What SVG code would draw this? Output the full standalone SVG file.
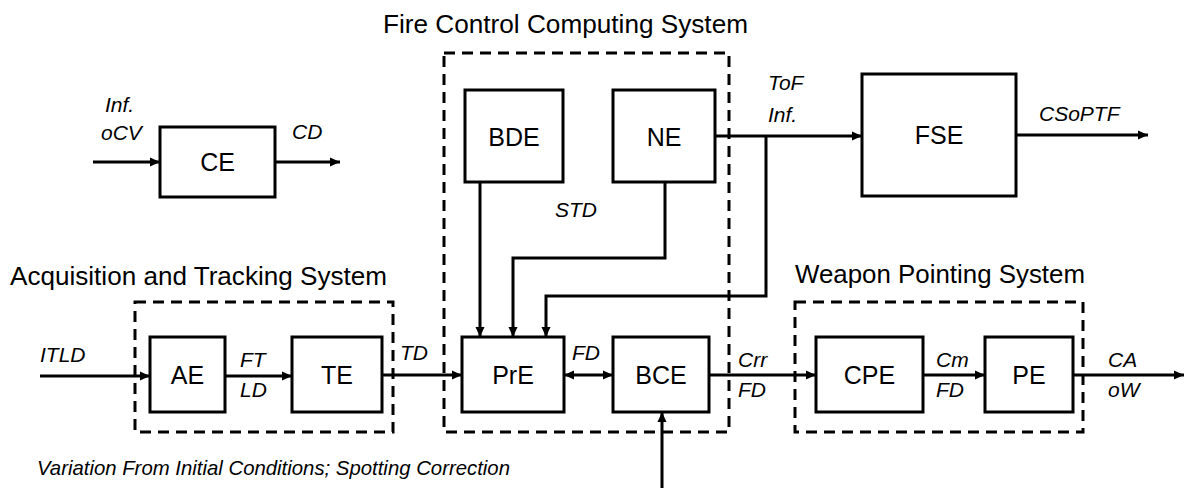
<svg xmlns="http://www.w3.org/2000/svg" width="1184" height="488" viewBox="0 0 1184 488">
<style>
.box{fill:#fff;stroke:#000;stroke-width:3}
.grp{fill:none;stroke:#000;stroke-width:3;stroke-dasharray:11 7}
.ln{fill:none;stroke:#000;stroke-width:3}
.arr{marker-end:url(#ah)}
.bl{font-family:"Liberation Sans",Arial,sans-serif;font-size:25px;text-anchor:middle;fill:#000}
.ti{font-family:"Liberation Sans",Arial,sans-serif;font-size:26px;fill:#000}
.lb{font-family:"Liberation Sans",Arial,sans-serif;font-size:21px;font-style:italic;fill:#000}
</style>
<defs>
<marker id="ah" viewBox="0 0 10 10" refX="10" refY="5" markerWidth="10" markerHeight="10" markerUnits="userSpaceOnUse" orient="auto">
<path d="M0,0.5 L10,5 L0,9.5 z" fill="#000"/>
</marker>
<marker id="ahs" viewBox="0 0 10 10" refX="0" refY="5" markerWidth="10" markerHeight="10" markerUnits="userSpaceOnUse" orient="auto">
<path d="M10,0.5 L0,5 L10,9.5 z" fill="#000"/>
</marker>
</defs>
<rect width="1184" height="488" fill="#fff"/>

<g id="titles">
<text class="ti" x="383" y="33" textLength="365" lengthAdjust="spacingAndGlyphs">Fire Control Computing System</text>
<text class="ti" x="10" y="285" textLength="377" lengthAdjust="spacingAndGlyphs">Acquisition and Tracking System</text>
<text class="ti" x="795" y="283" textLength="290" lengthAdjust="spacingAndGlyphs">Weapon Pointing System</text>
</g>

<g id="groups">
<rect id="fccs" class="grp" x="444" y="53" width="285" height="379"/>
<rect id="ats" class="grp" x="135" y="302" width="258" height="130"/>
<rect id="wps" class="grp" x="795" y="302" width="288" height="130"/>
</g>

<g id="connectors">
<path class="ln arr" d="M93,162 H160"/>
<path class="ln arr" d="M275,162 H340"/>
<path class="ln arr" d="M715,136 H862"/>
<path class="ln arr" d="M1016,135 H1148"/>
<path class="ln arr" d="M480,182 V337"/>
<path class="ln arr" d="M665,182 V258 H513 V337"/>
<path class="ln arr" d="M766,136 V296 H546 V337"/>
<path class="ln arr" d="M40,376 H150"/>
<path class="ln arr" d="M225,376 H292"/>
<path class="ln arr" d="M382,375 H462"/>
<path class="ln arr" d="M564,375 H613" style="marker-start:url(#ahs)"/>
<path class="ln arr" d="M709,375 H816"/>
<path class="ln arr" d="M662,488 V412"/>
<path class="ln arr" d="M923,375 H985"/>
<path class="ln arr" d="M1073,375 H1184"/>
</g>

<g id="CE"><rect class="box" x="160" y="127" width="115" height="70"/><text class="bl" x="217.5" y="171">CE</text></g>
<g id="BDE"><rect class="box" x="465" y="90" width="98" height="92"/><text class="bl" x="514" y="146">BDE</text></g>
<g id="NE"><rect class="box" x="613" y="90" width="102" height="92"/><text class="bl" x="664" y="146">NE</text></g>
<g id="FSE"><rect class="box" x="862" y="74" width="154" height="122"/><text class="bl" x="939" y="144">FSE</text></g>
<g id="AE"><rect class="box" x="150" y="337" width="75" height="75"/><text class="bl" x="187.5" y="384">AE</text></g>
<g id="TE"><rect class="box" x="292" y="337" width="90" height="75"/><text class="bl" x="337" y="384">TE</text></g>
<g id="PrE"><rect class="box" x="462" y="337" width="102" height="75"/><text class="bl" x="513" y="384">PrE</text></g>
<g id="BCE"><rect class="box" x="613" y="337" width="96" height="75"/><text class="bl" x="661" y="384">BCE</text></g>
<g id="CPE"><rect class="box" x="816" y="337" width="107" height="75"/><text class="bl" x="869.5" y="384">CPE</text></g>
<g id="PE"><rect class="box" x="985" y="337" width="88" height="75"/><text class="bl" x="1029" y="384">PE</text></g>

<g id="labels">
<text class="lb" x="105" y="112">Inf.</text>
<text class="lb" x="101" y="140">oCV</text>
<text class="lb" x="292" y="139">CD</text>
<text class="lb" x="768" y="90">ToF</text>
<text class="lb" x="768" y="122">Inf.</text>
<text class="lb" x="1039" y="121">CSoPTF</text>
<text class="lb" x="555" y="217">STD</text>
<text class="lb" x="40" y="362">ITLD</text>
<text class="lb" x="240" y="367">FT</text>
<text class="lb" x="240" y="397">LD</text>
<text class="lb" x="400" y="360">TD</text>
<text class="lb" x="572" y="360">FD</text>
<text class="lb" x="738" y="367">Crr</text>
<text class="lb" x="738" y="397">FD</text>
<text class="lb" x="936" y="367">Cm</text>
<text class="lb" x="936" y="397">FD</text>
<text class="lb" x="1108" y="367">CA</text>
<text class="lb" x="1108" y="397">oW</text>
<text class="lb" x="37" y="475" textLength="473" lengthAdjust="spacingAndGlyphs">Variation From Initial Conditions; Spotting Correction</text>
</g>
</svg>
